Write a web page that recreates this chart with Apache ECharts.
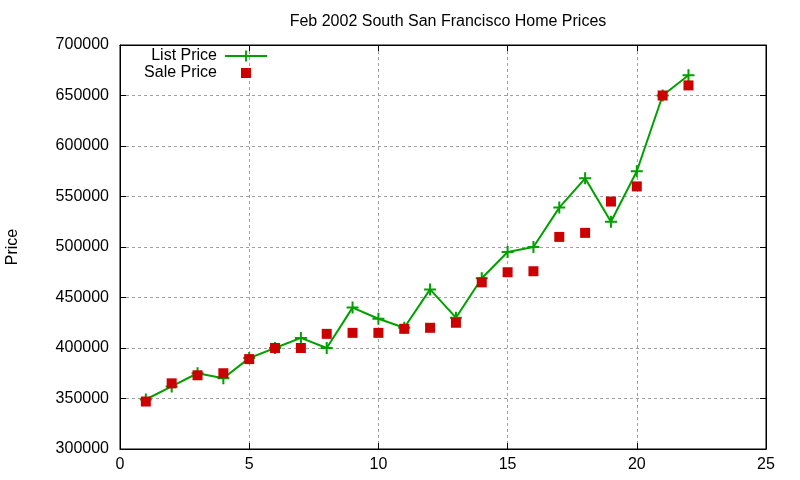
<!DOCTYPE html>
<html>
<head>
<meta charset="utf-8">
<script src="https://cdn.jsdelivr.net/npm/echarts@6/dist/echarts.min.js"></script>
<style>html,body{margin:0;padding:0;background:#fff;}#c{width:800px;height:480px;}</style>
</head>
<body>
<div id="c"></div>
<script>
const days = [1,2,3,4,5,6,7,8,9,10,11,12,13,14,15,16,17,18,19,20,21,22];
const listPrice = [349000,362000,375000,370000,390000,400000,410000,400000,440000,429000,420000,458000,430000,469000,495000,500000,539000,568000,525000,575000,650000,670000];
const salePrice = [347000,365000,373000,375000,389000,400000,400000,414000,415000,415000,419000,420000,425000,465000,475000,476000,510000,514000,545000,560000,650000,660000];
const xTicks = {min:0, max:25, interval:5};
const yTicks = {min:300000, max:700000, interval:50000};

const font = 'Liberation Sans, Arial, sans-serif';
const plusPath = 'path://M-1,-6 H1 V-1 H6 V1 H1 V6 H-1 V1 H-6 V-1 H-1 Z';
const green = '#00a000', red = '#cc0000';

const chart = echarts.init(document.getElementById('c'));
const tickStyle = {show:true, inside:true, length:6, lineStyle:{color:'#000', width:1}};
const splitStyle = {show:true, lineStyle:{color:'#a0a0a0', type:[3,3], width:1}};
const lineStyleAxis = {show:true, onZero:false, lineStyle:{color:'#000', width:1}};
chart.setOption({
  animation:false,
  backgroundColor:'#fff',
  title:{text:'Feb 2002 South San Francisco Home Prices', left:443, textAlign:'center', top:9,
    textStyle:{fontFamily:font, fontSize:16, fontWeight:'normal', color:'#000'}},
  grid:{left:120, right:34, top:45, bottom:31, show:true, borderColor:'#000', borderWidth:1,
    containLabel:false, outerBoundsMode:'none'},
  legend:[
    {data:['List Price'], orient:'vertical', right:527, top:43, align:'right', itemWidth:42, itemHeight:14,
     textStyle:{fontFamily:font, fontSize:16, color:'#000', padding:[0,3,0,0]}, itemGap:0},
    {data:[{name:'Sale Price', icon:'rect'}], orient:'vertical', right:544, top:60, align:'right', itemWidth:10, itemHeight:10,
     textStyle:{fontFamily:font, fontSize:16, color:'#000', padding:[0,19,0,0]}, itemGap:0}
  ],
  xAxis:[
    {type:'value', min:xTicks.min, max:xTicks.max, interval:xTicks.interval, position:'bottom',
     axisLine:lineStyleAxis, axisTick:tickStyle, splitLine:splitStyle,
     axisLabel:{fontFamily:font, fontSize:16, color:'#000', margin:8}},
    {type:'value', min:xTicks.min, max:xTicks.max, interval:xTicks.interval, position:'top',
     axisLine:lineStyleAxis, axisTick:tickStyle, splitLine:{show:false}, axisLabel:{show:false}}
  ],
  yAxis:[
    {type:'value', min:yTicks.min, max:yTicks.max, interval:yTicks.interval, position:'left',
     name:'Price', nameLocation:'middle', nameGap:99, nameTextStyle:{fontFamily:font, fontSize:16, color:'#000'},
     axisLine:lineStyleAxis, axisTick:tickStyle, splitLine:splitStyle,
     axisLabel:{fontFamily:font, fontSize:16, color:'#000', margin:11, formatter:v=>String(v)}},
    {type:'value', min:yTicks.min, max:yTicks.max, interval:yTicks.interval, position:'right',
     axisLine:lineStyleAxis, axisTick:tickStyle, splitLine:{show:false}, axisLabel:{show:false}}
  ],
  series:[
    {name:'List Price', type:'line', xAxisIndex:0, yAxisIndex:0,
     data:days.map((d,i)=>[d, listPrice[i]]),
     symbol:plusPath, symbolSize:12, showAllSymbol:true,
     lineStyle:{color:green, width:2}, itemStyle:{color:green, opacity:1}, z:2},
    {name:'Sale Price', type:'scatter', xAxisIndex:0, yAxisIndex:0,
     data:days.map((d,i)=>[d, salePrice[i]]),
     symbol:'rect', symbolSize:10, itemStyle:{color:red, opacity:1}, z:3}
  ]
});
</script>
</body>
</html>
